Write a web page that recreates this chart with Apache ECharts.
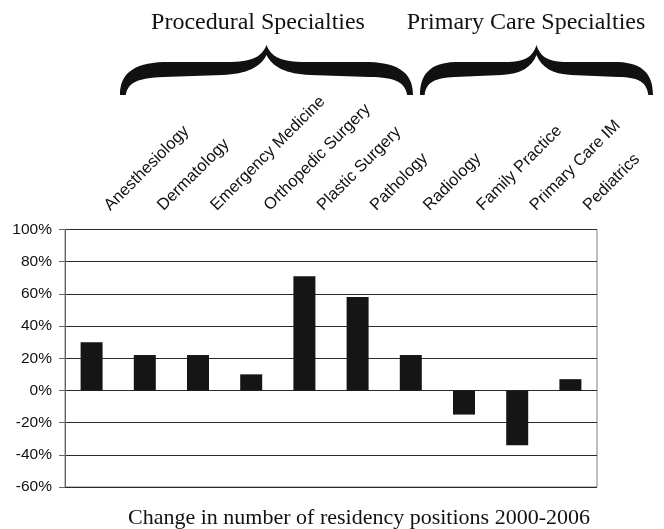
<!DOCTYPE html>
<html>
<head>
<meta charset="utf-8">
<title>Residency positions</title>
<script src="https://cdn.jsdelivr.net/npm/echarts@6/dist/echarts.min.js"></script>
<style>
  html, body { margin: 0; padding: 0; background: #fff; }
  #main { width: 664px; height: 529px; }
</style>
</head>
<body>
<div id="main"></div>
<script>
const specialties = ['Anesthesiology', 'Dermatology', 'Emergency Medicine', 'Orthopedic Surgery',
  'Plastic Surgery', 'Pathology', 'Radiology', 'Family Practice', 'Primary Care IM', 'Pediatrics']
const changePct = [30, 22, 22, 10, 71, 58, 22, -15, -34, 7]
const groupTitles = ['Procedural Specialties', 'Primary Care Specialties']
const bottomTitle = 'Change in number of residency positions 2000-2006'

// curly brace, tip up, drawn in a 300x50 box and stretched to fit
const bracePath = 'M0 50 C0 30 12 18 45 17 L110 17 C135 17 145 12 150 0 ' +
  'C155 12 165 17 190 17 L255 17 C288 18 300 30 300 50 L294 50 ' +
  'C292 38 283 32 255 32 L195 30 C170 29 156 22 150 10 ' +
  'C144 22 130 29 105 30 L45 32 C17 33 8 38 6 50 Z'
// left edge and width of each brace, in pixels
const braceBoxes = [[120, 293], [420, 233]]

const heading = (text, x, y, size) => ({
  type: 'text',
  x: x,
  y: y,
  style: {
    text: text,
    fill: '#111',
    font: size + 'px "Liberation Serif", "Times New Roman", serif',
    textAlign: 'center',
    textVerticalAlign: 'middle'
  }
})

const chart = echarts.init(document.getElementById('main'))
chart.setOption({
  animation: false,
  grid: {
    left: 65, right: 67, top: 229.5, bottom: 42,
    show: true, borderColor: '#808080', borderWidth: 1
  },
  xAxis: {
    type: 'category',
    position: 'top',
    data: specialties,
    axisLine: { show: false, onZero: false },
    axisTick: { show: false },
    splitLine: { show: false },
    axisLabel: {
      interval: 0,
      rotate: -45,
      margin: 6,
      padding: [0, 0, 0, 22],
      color: '#111',
      fontSize: 16.5,
      fontFamily: '"Liberation Sans", Arial, sans-serif'
    }
  },
  yAxis: {
    type: 'value',
    min: -60,
    max: 100,
    interval: 20,
    axisLine: { show: true, lineStyle: { color: '#666', width: 1 } },
    axisTick: { show: true, inside: false, length: 6, lineStyle: { color: '#666' } },
    splitLine: { show: true, lineStyle: { color: '#2a2a2a', width: 1 } },
    axisLabel: {
      margin: 13,
      formatter: '{value}%',
      color: '#111',
      fontSize: 15.5,
      fontFamily: '"Liberation Sans", Arial, sans-serif'
    }
  },
  series: [{
    type: 'bar',
    data: changePct,
    barWidth: 22,
    itemStyle: { color: '#151515' }
  }, {
    type: 'custom',
    coordinateSystem: 'none',
    silent: true,
    data: braceBoxes,
    renderItem: (params, api) => ({
      type: 'path',
      shape: {
        pathData: bracePath,
        layout: 'cover',
        x: api.value(0),
        y: 45,
        width: api.value(1),
        height: 50
      },
      style: { fill: '#111' }
    })
  }],
  graphic: [
    heading(groupTitles[0], 258, 23, 24),
    heading(groupTitles[1], 526, 23, 24),
    heading(bottomTitle, 359, 518, 22)
  ]
})
</script>
</body>
</html>
